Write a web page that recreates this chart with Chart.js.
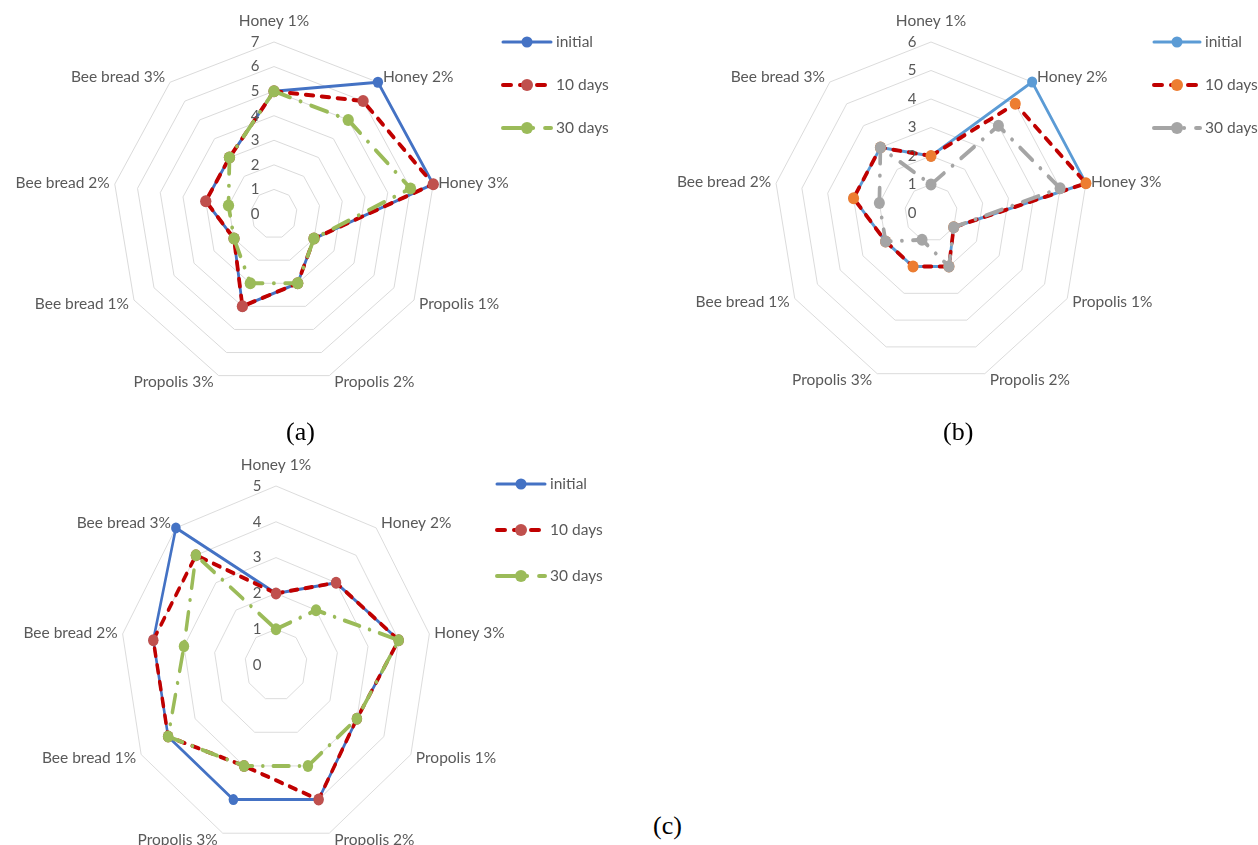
<!DOCTYPE html>
<html>
<head>
<meta charset="utf-8">
<title>Radar</title>
<script src="https://cdn.jsdelivr.net/npm/chart.js@4.4.1/dist/chart.umd.min.js"></script>
<style>
    html, body {
        margin: 0;
        padding: 0;
        background: #fff;
        width: 1258px;
        height: 845px;
        overflow: hidden;
    }
    body { position: relative; }
    canvas { position: absolute; }
    .cap {
        position: absolute;
        font-family: "Liberation Serif", "Times New Roman", serif;
        font-size: 26px;
        line-height: 30px;
        color: #000;
    }
</style>
</head>
<body>
<canvas id="radar-a" width="640" height="420" style="left:0;top:0"></canvas>
<canvas id="radar-b" width="618" height="420" style="left:640px;top:0"></canvas>
<canvas id="radar-c" width="640" height="440" style="left:0;top:420px"></canvas>
<div class="cap" style="left:286px;top:417px">(a)</div>
<div class="cap" style="left:943px;top:417px">(b)</div>
<div class="cap" style="left:653px;top:811px">(c)</div>

<script>
const CATEGORIAS = ['Honey 1%', 'Honey 2%', 'Honey 3%', 'Propolis 1%', 'Propolis 2%', 'Propolis 3%', 'Bee bread 1%', 'Bee bread 2%', 'Bee bread 3%'];
const SERIES = ['initial', '10 days', '30 days'];

// (a)
const inicialA = [5, 7, 7, 2, 3, 4, 2, 3, 3];
const dias10A = [5, 6, 7, 2, 3, 4, 2, 3, 3];
const dias30A = [5, 5, 6, 2, 3, 3, 2, 2, 3];
const maxA = 7;

// (b)
const inicialB = [2, 6, 6, 1, 2, 2, 2, 3, 3];
const dias10B = [2, 5, 6, 1, 2, 2, 2, 3, 3];
const dias30B = [1, 4, 5, 1, 2, 1, 2, 2, 3];
const maxB = 6;

// (c)
const inicialC = [2, 3, 4, 3, 4, 4, 4, 4, 5];
const dias10C = [2, 3, 4, 3, 4, 3, 4, 4, 4];
const dias30C = [1, 2, 4, 3, 3, 3, 4, 3, 4];
const maxC = 5;

const GRIS_TEXTO = '#595959';
const FUENTE = '"Lato", "Open Sans", sans-serif';

/**
 * Plugin que imita el radar de Excel: comprime en x la rejilla y las series,
 * y dibuja etiquetas, ticks y leyenda sin deformar el texto
 */
const radarExcel = {
    id: 'radarExcel',
    beforeDraw(chart, args, opts) {
        const r = chart.scales.r;
        const ctx = chart.ctx;
        ctx.save();
        ctx.translate(r.xCenter, 0);
        ctx.scale(opts.sx, 1);
        ctx.translate(-r.xCenter, 0);
    },
    afterDatasetsDraw(chart) {
        chart.ctx.restore();
    },
    afterDraw(chart, args, opts) {
        const r = chart.scales.r;
        const ctx = chart.ctx;
        const cx = r.xCenter;
        ctx.save();
        ctx.fillStyle = GRIS_TEXTO;
        ctx.textBaseline = 'middle';

        // nombres de las categorias
        ctx.font = '15.5px ' + FUENTE;
        chart.data.labels.forEach((lbl, i) => {
            const p = r.getPointPosition(i, r.drawingArea);
            const ang = r.getIndexAngle(i);
            const s = Math.sin(ang), c = Math.cos(ang);
            let x = cx + (p.x - cx) * opts.sx;
            let y = p.y;
            if (Math.abs(s) < 0.01) {
                ctx.textAlign = 'center';
                y -= 21;
            } else {
                ctx.textAlign = s > 0 ? 'left' : 'right';
                x += s > 0 ? 5 : -5;
                y -= 7 * c;
            }
            ctx.fillText(lbl, x, y);
        });

        // valores del eje
        ctx.font = '15px ' + FUENTE;
        ctx.textAlign = 'center';
        r.ticks.forEach(t => {
            const y = r.yCenter - r.getDistanceFromCenterForValue(t.value);
            ctx.fillText(t.label, cx - 19, y);
        });

        // leyenda
        const lg = opts.leyenda;
        chart.data.datasets.forEach((ds, i) => {
            const y = lg.y + i * lg.sep;
            ctx.save();
            ctx.strokeStyle = ds.borderColor;
            ctx.lineWidth = ds.borderWidth;
            ctx.lineCap = ds.borderCapStyle;
            ctx.setLineDash(ds.borderDash);
            ctx.beginPath();
            ctx.moveTo(lg.x, y);
            ctx.lineTo(lg.x + lg.largo, y);
            ctx.stroke();
            ctx.setLineDash([]);
            ctx.fillStyle = ds.pointBackgroundColor;
            ctx.beginPath();
            ctx.arc(lg.x + lg.largo / 2, y, ds.pointRadius, 0, Math.PI * 2);
            ctx.fill();
            ctx.restore();
            ctx.font = '15.5px ' + FUENTE;
            ctx.textAlign = 'left';
            ctx.fillText(ds.label, lg.x + lg.largo + 5, y);
        });
        ctx.restore();
    }
};

/**
 * Arma las tres series con el estilo de cada una
 * @param {*} valores arreglo con los datos de cada serie
 * @param {*} colores [linea inicial, punto 10 dias, linea 30 dias]
 */
const series = (valores, colores) => [
    { label: SERIES[0], data: valores[0], borderColor: colores[0], pointBackgroundColor: colores[0], borderWidth: 3, borderDash: [], pointRadius: 5.5, order: 3 },
    { label: SERIES[1], data: valores[1], borderColor: '#C00000', pointBackgroundColor: colores[1], borderWidth: 4, borderDash: [8, 9], pointRadius: 6, order: 2 },
    { label: SERIES[2], data: valores[2], borderColor: colores[2], pointBackgroundColor: colores[2], borderWidth: 4, borderDash: [18, 12, 0.1, 12], pointRadius: 6, order: 1 }
].map(d => ({
    ...d,
    fill: false,
    tension: 0,
    pointBorderWidth: 0,
    pointBorderColor: d.pointBackgroundColor,
    pointHoverRadius: d.pointRadius,
    borderCapStyle: 'round',
    borderJoinStyle: 'round'
}));

/**
 * Crea la grafica de radar
 * @param {*} dom id del canvas
 * @param {*} valores datos de las series
 * @param {*} colores colores de las series
 * @param {*} max valor maximo del eje
 * @param {*} padding espacio alrededor del area de la grafica
 * @param {*} sx compresion horizontal
 * @param {*} leyenda posicion de la leyenda
 */
const radar = (dom, valores, colores, max, padding, sx, leyenda) => {
    const element = document.getElementById(dom).getContext('2d');
    return new Chart(element, {
        type: 'radar',
        data: {
            labels: CATEGORIAS,
            datasets: series(valores, colores)
        },
        plugins: [radarExcel],
        options: {
            responsive: false,
            animation: false,
            events: [],
            layout: { padding: padding },
            plugins: {
                legend: { display: false },
                tooltip: { enabled: false },
                radarExcel: { sx: sx, leyenda: leyenda }
            },
            scales: {
                r: {
                    min: 0,
                    max: max,
                    beginAtZero: true,
                    ticks: { stepSize: 1, display: false },
                    pointLabels: { display: false },
                    grid: { color: '#D9D9D9', lineWidth: 1 },
                    angleLines: { display: false }
                }
            }
        }
    });
};

radar('radar-a', [inicialA, dias10A, dias30A], ['#4472C4', '#C0504D', '#9BBB59'], maxA,
    { left: 102, right: 194, top: 42, bottom: 34 }, 0.94, { x: 503, y: 42, sep: 43, largo: 48 });
radar('radar-b', [inicialB, dias10B, dias30B], ['#5B9BD5', '#ED7D31', '#A5A5A5'], maxB,
    { left: 120, right: 156, top: 42, bottom: 36 }, 0.92, { x: 514, y: 42, sep: 43, largo: 46 });
radar('radar-c', [inicialC, dias10C, dias30C], ['#4472C4', '#C0504D', '#9BBB59'], maxC,
    { left: 97, right: 185, top: 66, bottom: 16 }, 0.87, { x: 497, y: 64, sep: 46, largo: 48 });
</script>
</body>
</html>
